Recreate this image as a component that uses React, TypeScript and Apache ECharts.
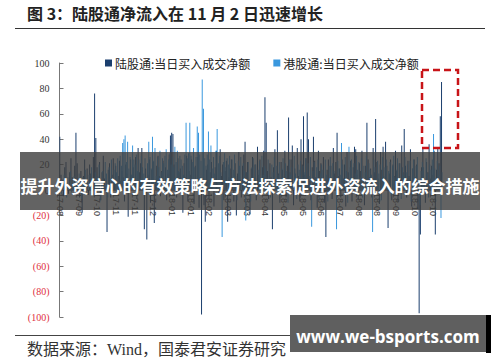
import React, { useEffect, useRef } from "react";
import * as echarts from "echarts";

// Month labels shown every 15 trading days along the date axis
const tickLabels = [
  "17-08", "17-09", "17-10", "17-11", "17-11", "17-12", "18-01", "18-01", "18-02", "18-03", "18-03",
  "18-04", "18-05", "18-05", "18-06", "18-07", "18-08", "18-08", "18-09", "18-10", "18-10",
];

// 陆股通 daily net buy (亿元), one row per 15 trading days
const northbound = [
  42, 12, 8, -5, 18, 22, 6, -3, 14, 25, 10, 3, 19, 45, 21,
  7, -6, 15, -18, 11, 24, 5, 17, -4, 20, 13, 9, 26, 76, 41,
  18, 5, 22, -8, 14, 27, 9, 3, -33, 16, 21, -6, 12, 25, 8,
  19, -4, 11, 23, 7, 15, 10, -9, 20, 13, -21, 6, 24, 12, 18,
  9, 26, -7, 33, 14, 21, 33, 5, -31, 17, -39, 12, 24, -10, 16,
  22, -26, 8, 19, 27, 11, -5, 15, 23, 6, 18, -8, 13, 28, 43,
  45, 44, 20, 9, -6, 25, 14, 17, 3, -18, 21, 10, 27, -9, 15,
  12, 24, 6, -11, 19, 8, 26, -14, 10, -98, 5, -12, -25, 16, 20,
  -7, 14, 22, 9, -13, 18, 31, 6, -4, 32, 11, 20, -8, 15, 23,
  -25, 10, 17, 24, 5, -9, 21, -20, 13, 30, 8, -6, 19, 28, 38,
  14, 22, -5, -19, 17, 26, 9, 20, -8, 34, 12, 24, 6, 18, 31,
  73, 53, 15, -7, 21, 10, -31, 18, 32, 8, 47, 13, -10, 22, 16,
  9, 31, -6, 19, 57, 14, 24, 35, -12, 17, 8, 33, 11, -9, 40,
  20, 58, 12, 25, 61, 40, 7, -8, 18, 42, 23, 10, -14, 31, 15,
  21, 8, 26, -10, -37, 16, 24, 5, 19, -7, 33, 13, 22, 45, 11,
  17, -6, 24, 9, 20, -13, 30, 14, 6, 23, -9, 18, 34, 32, 12,
  -8, 21, 15, 31, 7, -12, 19, 53, 24, 10, 17, -6, 33, 14, 56,
  22, 9, -11, 30, 16, 34, 6, 38, 19, -30, 13, 24, -8, 20, 11,
  31, 15, -9, 21, 8, 35, 14, 48, 19, -6, 23, 11, 32, -13, 17,
  24, 10, 20, -15, -97, -35, 18, 33, 7, -10, 22, 14, 36, 9, 19,
  12, 31, -35, 16, 33, 21, 58, 85,
];

// 港股通 daily net buy (亿港元)
const southbound = [
  5, -3, 8, 12, 2, -6, 10, 4, 15, -2, 7, 11, -4, 9, 6,
  13, 3, -7, 10, 6, 16, -3, 8, 12, 1, 18, 5, -5, 14, 9,
  11, 20, -8, 7, 15, 4, 22, 13, -6, 18, 9, 24, 3, 16, 21,
  14, 25, 8, 27, 19, 37, 40, 43, 22, 38, 17, 26, 12, 35, 24,
  20, 28, 15, 24, 9, 27, 18, 13, 25, 6, 21, 38, 26, 17, 42,
  23, 33, 11, 26, 18, 31, 14, 25, 21, 27, 32, 16, 24, 29, 20,
  26, 18, 34, 22, 31, 15, 27, 24, 19, 12, 28, 53, 25, 29, 53,
  27, 22, 33, 18, 26, 50, 45, 28, 23, 87, 64, 25, 19, 28, 46,
  24, 35, 17, 26, 13, 31, 48, 21, 27, 14, -37, 22, 29, 18, 25,
  20, 27, 9, 24, 16, 28, 11, -8, 23, 19, 26, 7, 21, 15, -24,
  14, 22, 6, -9, 18, 25, 10, 20, -5, 16, 23, 8, 27, 12, 19,
  17, 9, 24, 11, -6, 20, 14, 26, 7, 19, 12, 22, -4, 17, 25,
  8, 21, 15, -10, 24, 12, 18, 6, 27, 13, -7, 20, 16, 23, 9,
  19, 14, 25, 7, 21, 11, 26, -29, 15, 22, 9, 18, 24, -8, 13,
  20, 16, 7, 24, 12, -9, 19, 26, 10, 21, 15, 8, -31, 23, 17,
  12, 37, 20, 9, 26, 15, -10, 34, 18, 24, 7, 21, 13, 27, 16,
  22, 10, 25, -6, 19, 14, 27, 8, 21, 16, 12, -33, 24, 18, 9,
  23, 13, 20, -8, 26, 11, 18, 24, 7, 15, 22, -5, 19, 27, 10,
  16, 25, 9, 21, -7, 18, 12, 26, 14, 20, 8, 23, -9, 17, 24,
  11, 19, 26, 7, -12, 15, 22, 18, 9, 25, 13, -6, 20, 16, 24,
  44, 17, 9, 23, 12, 19, -22, 14,
];

const days = northbound.map((_, i) => String(i));

const DARK = "#1b3f6e";
const LIGHT = "#3a98de";

const GRID_TOP = 63;
const GRID_BOTTOM = 45;
const CHART_H = 362;

export default function App() {
  const ref = useRef<HTMLDivElement>(null);

  useEffect(() => {
    if (!ref.current) return;
    const chart = echarts.init(ref.current, null, { renderer: "svg" });
    // the date axis sits on the zero line, halfway up the symmetric value range
    const zeroOffset = -(CHART_H - GRID_TOP - GRID_BOTTOM) / 2;
    chart.setOption({
      animation: false,
      backgroundColor: "#ffffff",
      grid: { left: 59.5, right: 57.5, top: GRID_TOP, bottom: GRID_BOTTOM },
      legend: {
        left: 105,
        top: 57,
        padding: 0,
        itemWidth: 7,
        itemHeight: 7,
        itemGap: 23,
        icon: "rect",
        textStyle: { fontSize: 12, color: "#222", fontFamily: "Noto Sans CJK SC", padding: [0, 0, 0, -2] },
      },
      xAxis: {
        type: "category",
        data: days,
        position: "bottom",
        offset: zeroOffset,
        axisLine: { onZero: false, lineStyle: { color: "#999", width: 1 } },
        axisTick: { show: false },
        axisLabel: {
          interval: 14,
          rotate: -90,
          margin: 3,
          fontSize: 9,
          color: "#333",
          fontFamily: "Liberation Sans",
          formatter: (_v: string, i: number) => tickLabels[Math.round(i / 15)] ?? "",
        },
      },
      yAxis: {
        type: "value",
        min: -100,
        max: 100,
        interval: 20,
        splitLine: { show: false },
        axisLine: { show: true, lineStyle: { color: "#777", width: 1 } },
        axisTick: { show: true, inside: true, length: 4, lineStyle: { color: "#777" } },
        axisLabel: {
          margin: 10,
          fontSize: 10,
          fontFamily: "Liberation Serif",
          color: (v: any) => (Number(v) < 0 ? "#e03040" : "#333"),
          formatter: (v: number) => (v < 0 ? `(${-v})` : `${v}`),
        },
      },
      series: [
        {
          type: "bar",
          name: "陆股通:当日买入成交净额",
          data: northbound,
          itemStyle: { color: DARK },
          barWidth: 1,
          barGap: "-30%",
        },
        {
          type: "bar",
          name: "港股通:当日买入成交净额",
          data: southbound,
          itemStyle: { color: LIGHT },
          barWidth: 1,
        },
      ],
      graphic: [
        {
          type: "text",
          left: 27,
          top: 5,
          style: {
            text: "图 3：陆股通净流入在 11 月 2 日迅速增长",
            font: "bold 16px 'Noto Sans CJK SC'",
            fill: "#222",
          },
        },
        { type: "line", shape: { x1: 15, y1: 28.5, x2: 485, y2: 28.5 }, style: { stroke: "#333", lineWidth: 1 } },
        {
          type: "rect",
          shape: { x: 422, y: 70, width: 36, height: 78 },
          style: { fill: "none", stroke: "#c81418", lineWidth: 2.5, lineDash: [7, 4] },
          z: 10,
        },
        {
          type: "rect",
          shape: { x: 20, y: 152, width: 460, height: 58 },
          style: { fill: "rgba(60,60,60,0.8)" },
          z: 20,
        },
        {
          type: "text",
          x: 250,
          y: 185,
          style: {
            text: "提升外资信心的有效策略与方法探索促进外资流入的综合措施",
            font: "bold 17px 'Noto Sans CJK SC'",
            fill: "#fff",
            align: "center",
            verticalAlign: "middle",
          },
          z: 21,
        },
        { type: "line", shape: { x1: 15, y1: 335.5, x2: 485, y2: 335.5 }, style: { stroke: "#444", lineWidth: 1 } },
        {
          type: "text",
          x: 27,
          y: 349,
          style: {
            text: "数据来源：Wind，国泰君安证券研究",
            font: "16px 'Liberation Serif', 'Noto Sans CJK SC'",
            fill: "#333",
            verticalAlign: "middle",
          },
        },
        {
          type: "rect",
          shape: { x: 290, y: 315, width: 197, height: 37 },
          style: { fill: "#5f5f5f" },
          z: 20,
        },
        {
          type: "rect",
          shape: { x: 486, y: 315, width: 5, height: 38 },
          style: { fill: "#000" },
          z: 20,
        },
        {
          type: "text",
          x: 388,
          y: 336,
          style: {
            text: "www.we-bsports.com",
            font: "bold 17px 'Open Sans'",
            fill: "#fff",
            align: "center",
            verticalAlign: "middle",
          },
          z: 21,
        },
      ],
    });
    return () => chart.dispose();
  }, []);

  return (
    <div
      ref={ref}
      style={{ position: "absolute", left: 0, top: 0, width: 500, height: CHART_H }}
    />
  );
}
